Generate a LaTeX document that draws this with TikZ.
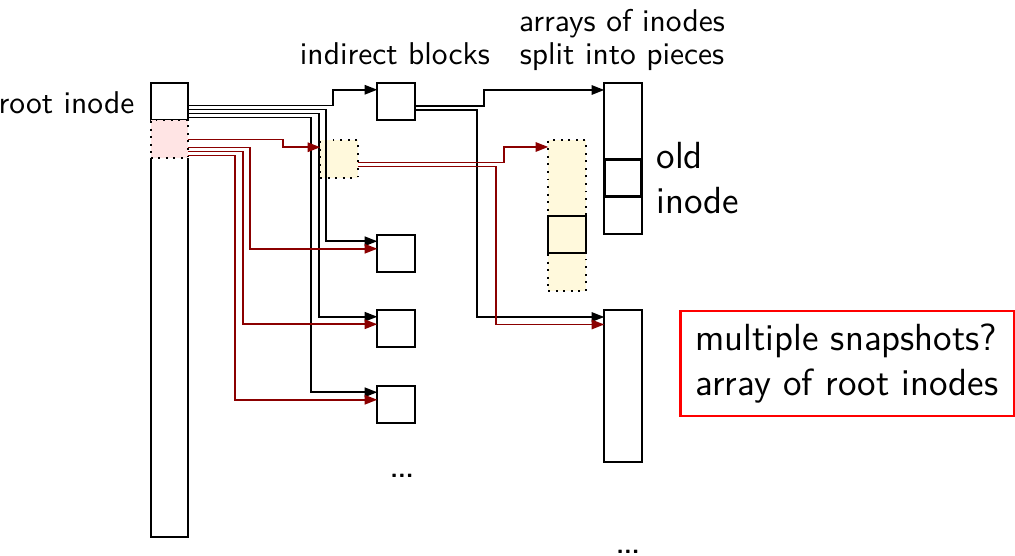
\documentclass[tikz,border=0pt]{standalone}
\usepackage{fontspec}
\usetikzlibrary{calc,arrows.meta}
\newdimen\pxu \pxu=0.3175pt
\definecolor{darkred}{RGB}{139,0,0}
\definecolor{pinkfill}{RGB}{255,228,228}
\definecolor{yelfill}{RGB}{255,249,220}
\tikzset{
  cell/.style={draw, line width=0.6pt, inner sep=0pt, outer sep=0pt,
    minimum width=37.5\pxu, minimum height=37.5\pxu},
  dotcell/.style={cell, dash pattern=on 0.6pt off 1.8pt},
  blk/.style={line width=0.5pt, -{Triangle[length=4pt,width=3pt]}},
  rdl/.style={blk, draw=darkred},
  small/.style={font=\sffamily\fontsize{10}{10.6}\selectfont, inner sep=0pt},
  big/.style={font=\sffamily\fontsize{12}{14.2}\selectfont, inner sep=0pt},
  dotsl/.style={font=\sffamily\bfseries\fontsize{8}{8}\selectfont, inner sep=0pt, anchor=base},
}
\begin{document}
\begin{tikzpicture}[x=\pxu, y=-\pxu]
\path[use as bounding box] (0,0) rectangle (1015,556);

% root inode column
\node[cell] (rootA) at (169.5,101.5) {};
\node[dotcell, fill=pinkfill] (rootB) at (169.5,139) {};
\node[inner sep=0pt, outer sep=0pt, minimum width=37.5\pxu, minimum height=379\pxu] (rootRest) at (169.5,347.5) {};
\draw[line width=0.6pt] (rootRest.north west) |- (rootRest.south east) -- (rootRest.north east);

% indirect blocks
\node[cell] (ib1) at (396,101.5) {};
\node[dotcell, fill=yelfill] (ibY) at (339,159) {};
\node[cell] (ib2) at (396,253.5) {};
\node[cell] (ib3) at (396,328.5) {};
\node[cell] (ib4) at (396,404.5) {};

% new piece strip
\node[dotcell, fill=yelfill, minimum height=151\pxu] (strip) at (567,215.5) {};
\node[cell, fill=yelfill] (stripIn) at (567,234.5) {};

% inode arrays
\node[cell, minimum height=151\pxu] (arr1) at (623,158.5) {};
\node[cell, line width=0.9pt] (arr1mid) at (623,178) {};
\node[cell, minimum height=152\pxu] (arr2) at (623,386) {};

% connectors from root inode (black)
\draw[blk] ($(rootA.east)+(0,4)$) -| ($(ib1.north west)+(-44,7)$) -- ($(ib1.north west)+(0,7)$);
\draw[blk] ($(rootA.east)+(0,8)$) -| ($(ib2.north west)+(-51,6.5)$) -- ($(ib2.north west)+(0,6.5)$);
\draw[blk] ($(rootA.east)+(0,12)$) -| ($(ib3.north west)+(-58.5,7)$) -- ($(ib3.north west)+(0,7)$);
\draw[blk] ($(rootA.east)+(0,16)$) -| ($(ib4.north west)+(-66,6.5)$) -- ($(ib4.north west)+(0,6.5)$);

% connectors from new root inode (red)
\draw[rdl] ($(rootB.east)+(0,0.5)$) -| ($(ibY.north west)+(-37,7)$) -- ($(ibY.north west)+(0,7)$);
\draw[rdl] ($(rootB.east)+(0,8.5)$) -| ($(ib2.north west)+(-127,14)$) -- ($(ib2.north west)+(0,14)$);
\draw[rdl] ($(rootB.east)+(0,12.5)$) -| ($(ib3.north west)+(-134.5,14.5)$) -- ($(ib3.north west)+(0,14.5)$);
\draw[rdl] ($(rootB.east)+(0,16.5)$) -| ($(ib4.north west)+(-142,14)$) -- ($(ib4.north west)+(0,14)$);

% from old indirect block
\draw[blk] ($(ib1.east)+(0,4.5)$) -| ($(arr1.north west)+(-120,7)$) -- ($(arr1.north west)+(0,7)$);
\draw[blk] ($(ib1.east)+(0,8.5)$) -| ($(arr2.north west)+(-127,7)$) -- ($(arr2.north west)+(0,7)$);

% from new indirect block
\draw[rdl] ($(ibY.east)+(0,3.7)$) -| ($(strip.north west)+(-44.5,7)$) -- ($(strip.north west)+(0,7)$);
\draw[rdl] ($(ibY.east)+(0,7.7)$) -| ($(arr2.north west)+(-108,14.5)$) -- ($(arr2.north west)+(0,14.5)$);

% labels
\node[small, anchor=base east] (lblRoot) at (135,113.3) {root inode};
\node[small, anchor=base] (lblInd) at (395,65) {indirect blocks};
\node[small, anchor=base] (lblArr1) at (622,31.7) {arrays of inodes};
\node[small, anchor=base] (lblArr2) at (622,65) {split into pieces};
\node[big, anchor=base west] (lblOld) at (656,168.3) {old};
\node[big, anchor=base west] (lblInode) at (656,213.3) {inode};
\node[dotsl] (dots1) at (402,477.5) {...};
\node[dotsl] (dots2) at (628,553) {...};

% note
\node[big, draw=red, line width=0.65pt, align=left, inner sep=0pt,
  minimum width=333\pxu, minimum height=105\pxu] (note) at (847,363.3)
  {multiple snapshots?\\array of root inodes};
\end{tikzpicture}
\end{document}
